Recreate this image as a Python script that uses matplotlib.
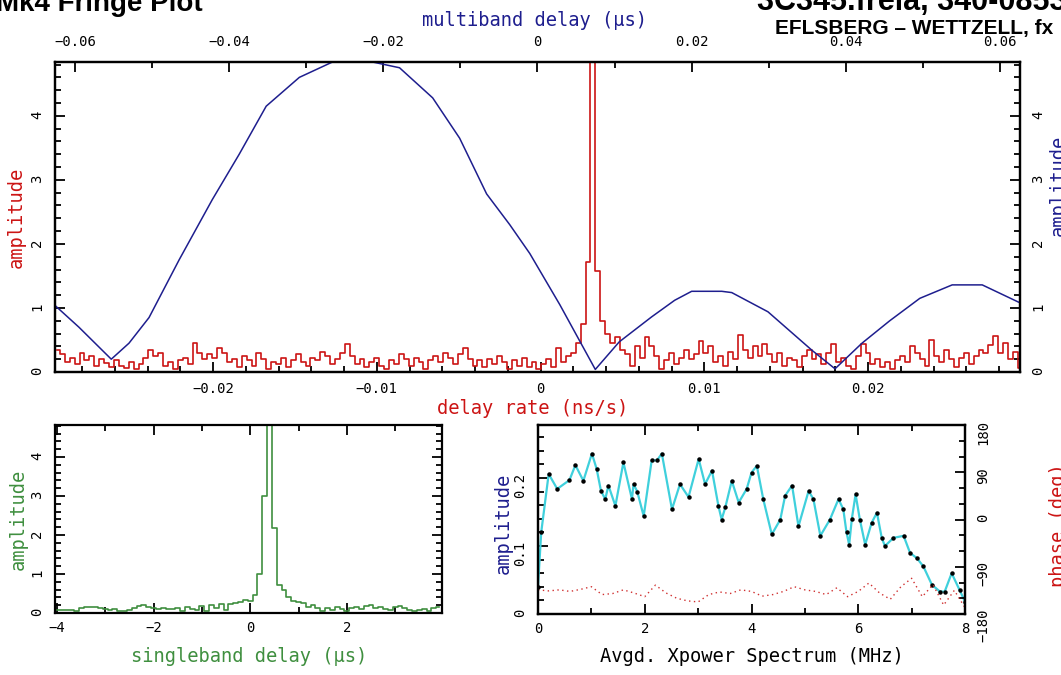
import matplotlib.pyplot as plt
import numpy as np
from matplotlib.ticker import MultipleLocator, FuncFormatter

# delay rate amplitude (red), evenly sampled from rate_start in steps of rate_step (ns/s)
rate_start = -0.0295
rate_step = 0.0003
rate_amp = [
    0.35, 0.28, 0.15, 0.22, 0.12, 0.30, 0.18, 0.25, 0.10, 0.20,
    0.14, 0.08, 0.18, 0.10, 0.06, 0.15, 0.05, 0.12, 0.22, 0.35,
    0.25, 0.30, 0.10, 0.15, 0.05, 0.18, 0.22, 0.12, 0.45, 0.30,
    0.20, 0.28, 0.22, 0.38, 0.30, 0.15, 0.20, 0.08, 0.25, 0.18,
    0.10, 0.30, 0.20, 0.05, 0.15, 0.12, 0.22, 0.08, 0.18, 0.28,
    0.15, 0.10, 0.22, 0.18, 0.32, 0.25, 0.12, 0.20, 0.30, 0.43,
    0.25, 0.12, 0.20, 0.08, 0.16, 0.22, 0.10, 0.05, 0.18, 0.12,
    0.28, 0.20, 0.10, 0.22, 0.15, 0.05, 0.18, 0.25, 0.15, 0.30,
    0.22, 0.12, 0.28, 0.38, 0.20, 0.10, 0.18, 0.08, 0.20, 0.12,
    0.25, 0.15, 0.05, 0.18, 0.10, 0.22, 0.08, 0.15, 0.05, 0.12,
    0.20, 0.08, 0.37, 0.15, 0.25, 0.30, 0.45, 0.75, 1.72, 6.00,
    1.57, 0.80, 0.60, 0.45, 0.55, 0.35, 0.28, 0.10, 0.40, 0.22,
    0.55, 0.40, 0.25, 0.05, 0.18, 0.30, 0.12, 0.22, 0.35, 0.20,
    0.28, 0.48, 0.30, 0.40, 0.15, 0.25, 0.10, 0.32, 0.20, 0.58,
    0.35, 0.22, 0.40, 0.25, 0.43, 0.28, 0.15, 0.30, 0.10, 0.22,
    0.18, 0.08, 0.25, 0.35, 0.20, 0.28, 0.12, 0.30, 0.43, 0.15,
    0.22, 0.10, 0.05, 0.25, 0.43, 0.30, 0.12, 0.20, 0.08, 0.15,
    0.05, 0.18, 0.25, 0.15, 0.40, 0.30, 0.20, 0.10, 0.50, 0.25,
    0.15, 0.35, 0.20, 0.08, 0.22, 0.30, 0.12, 0.25, 0.35, 0.30,
    0.42, 0.56, 0.30, 0.45, 0.20, 0.32, 0.06]

# multiband delay amplitude (blue)
mbd_x = [-0.0627, -0.0595, -0.0553, -0.0530, -0.0504, -0.0465, -0.0422, -0.0387,
         -0.0352, -0.0309, -0.0266, -0.0240, -0.0214, -0.0179, -0.0136, -0.0101,
         -0.0066, -0.0036, -0.0010, 0.0029, 0.0075, 0.0106, 0.0148, 0.0178,
         0.0200, 0.0239, 0.0252, 0.0299, 0.0356, 0.0386, 0.0421, 0.0457,
         0.0496, 0.0538, 0.0577, 0.0626]
mbd_amp = [1.05, 0.70, 0.20, 0.45, 0.85, 1.75, 2.69, 3.40,
           4.15, 4.60, 4.84, 4.86, 4.84, 4.75, 4.28, 3.65,
           2.78, 2.30, 1.85, 1.05, 0.04, 0.47, 0.86, 1.12,
           1.26, 1.26, 1.24, 0.94, 0.34, 0.05, 0.45, 0.80,
           1.15, 1.36, 1.36, 1.08]

# singleband delay amplitude (green), from sbd_start in steps of sbd_step (us)
sbd_start = -4.0
sbd_step = 0.1
sbd_amp = [
    0.08, 0.08, 0.08, 0.08, 0.06, 0.12, 0.15, 0.15, 0.15, 0.12,
    0.10, 0.08, 0.10, 0.06, 0.05, 0.08, 0.12, 0.18, 0.20, 0.15,
    0.12, 0.10, 0.12, 0.10, 0.10, 0.12, 0.05, 0.15, 0.10, 0.08,
    0.18, 0.05, 0.20, 0.12, 0.22, 0.08, 0.22, 0.25, 0.28, 0.33,
    0.30, 0.45, 1.00, 3.00, 5.00, 2.18, 0.72, 0.58, 0.40, 0.30,
    0.28, 0.25, 0.15, 0.20, 0.12, 0.05, 0.12, 0.08, 0.15, 0.10,
    0.05, 0.12, 0.15, 0.10, 0.18, 0.20, 0.12, 0.15, 0.10, 0.08,
    0.15, 0.18, 0.12, 0.08, 0.05, 0.08, 0.10, 0.06, 0.12, 0.15]

# averaged cross power spectrum
xp_freq = [0.0, 0.06, 0.2, 0.36, 0.59, 0.7, 0.85, 1.01, 1.1, 1.18, 1.26, 1.32, 1.45,
           1.6, 1.76, 1.79, 1.86, 1.98, 2.13, 2.23, 2.32, 2.51, 2.66, 2.82, 3.01,
           3.13, 3.26, 3.38, 3.44, 3.51, 3.63, 3.76, 3.91, 4.0, 4.1, 4.22, 4.38,
           4.54, 4.63, 4.76, 4.88, 5.07, 5.16, 5.29, 5.47, 5.63, 5.72, 5.78, 5.83,
           5.88, 5.95, 6.03, 6.13, 6.25, 6.35, 6.44, 6.5, 6.66, 6.85, 6.97, 7.1,
           7.22, 7.38, 7.53, 7.62, 7.75, 7.9, 8.0]
xp_amp = [0.040, 0.120, 0.206, 0.184, 0.197, 0.219, 0.196, 0.236, 0.213, 0.181,
          0.169, 0.189, 0.159, 0.223, 0.169, 0.191, 0.180, 0.144, 0.226, 0.226,
          0.236, 0.154, 0.191, 0.172, 0.228, 0.191, 0.211, 0.159, 0.139, 0.157,
          0.196, 0.164, 0.184, 0.208, 0.218, 0.169, 0.117, 0.139, 0.174, 0.189,
          0.129, 0.181, 0.169, 0.115, 0.139, 0.169, 0.154, 0.120, 0.102, 0.140,
          0.176, 0.139, 0.102, 0.134, 0.149, 0.112, 0.100, 0.112, 0.115, 0.090,
          0.082, 0.070, 0.043, 0.033, 0.033, 0.060, 0.035, 0.018]
phase_freq = [0.0, 0.2, 0.4, 0.6, 0.8, 1.0, 1.2, 1.4, 1.6, 1.8,
              2.0, 2.2, 2.4, 2.6, 2.8, 3.0, 3.2, 3.4, 3.6, 3.8,
              4.0, 4.2, 4.4, 4.6, 4.8, 5.0, 5.2, 5.4, 5.6, 5.8,
              6.0, 6.2, 6.4, 6.6, 6.8, 7.0, 7.2, 7.4, 7.6, 7.8, 8.0]
phase_deg = [-134, -136, -134, -137, -133, -128, -143, -141, -134, -140,
             -147, -125, -140, -150, -155, -157, -143, -138, -141, -134,
             -137, -146, -143, -137, -128, -134, -137, -143, -130, -147,
             -137, -121, -140, -152, -128, -112, -147, -124, -163, -135, -168]

RED = '#cc1414'
BLUE = '#1e1e8e'
GREEN = '#3f8f3f'
CYAN = '#3fd0dc'
W, H = 1061, 675

plt.rcParams['font.family'] = 'DejaVu Sans Mono'
plt.rcParams['axes.unicode_minus'] = True


def fmt(v, pos):
    s = '%g' % round(v, 6)
    return s.replace('-', '\u2212')


def style_axis(ax):
    for sp in ax.spines.values():
        sp.set_linewidth(1.6)
    ax.tick_params(which='both', direction='in', width=1.3, labelsize=10)
    ax.tick_params(which='major', length=7)
    ax.tick_params(which='minor', length=4)
    ax.tick_params(axis='y', labelrotation=90)
    ax.xaxis.set_major_formatter(FuncFormatter(fmt))
    ax.yaxis.set_major_formatter(FuncFormatter(fmt))


def box(left, top, right, bottom):
    return [left / W, 1 - bottom / H, (right - left) / W, (bottom - top) / H]


def label(x, y, text, color, rot=0):
    fig.text(x / W, 1 - y / H, text, color=color, fontsize=13.5, rotation=rot,
             ha='center', va='center')


fig = plt.figure(figsize=(W / 100, H / 100), dpi=100)

# ---- top panel: delay rate + multiband delay
ax_rate = fig.add_axes(box(55, 62, 1020, 372))
rate_x = rate_start + rate_step * np.arange(len(rate_amp))
ax_rate.plot(rate_x, rate_amp, color=RED, lw=1.2, drawstyle='steps-mid')
ax_rate.set_xlim(-0.02965, 0.02928)
ax_rate.set_ylim(0, 4.84)
style_axis(ax_rate)
ax_rate.xaxis.set_major_locator(MultipleLocator(0.01))
ax_rate.xaxis.set_minor_locator(MultipleLocator(0.002))
ax_rate.yaxis.set_major_locator(MultipleLocator(1))
ax_rate.yaxis.set_minor_locator(MultipleLocator(0.2))
ax_rate.tick_params(which='both', top=False, right=True, labelright=True)
ax_rate.tick_params(axis='x', pad=7)
ax_rate.tick_params(axis='y', pad=8)

ax_mbd = ax_rate.twiny()
ax_mbd.plot(mbd_x, mbd_amp, color=BLUE, lw=1.1)
ax_mbd.set_xlim(-0.0626, 0.0626)
style_axis(ax_mbd)
ax_mbd.xaxis.set_major_locator(MultipleLocator(0.02))
ax_mbd.xaxis.set_minor_locator(MultipleLocator(0.01))
ax_mbd.tick_params(axis='x', which='both', top=True, bottom=False, labeltop=True, pad=9)

# ---- bottom left: singleband delay
ax_sbd = fig.add_axes(box(55, 425, 442, 613))
sbd_x = sbd_start + sbd_step * np.arange(len(sbd_amp))
ax_sbd.plot(sbd_x, sbd_amp, color=GREEN, lw=1.2, drawstyle='steps-mid')
ax_sbd.set_xlim(-4.04, 3.97)
ax_sbd.set_ylim(0, 4.82)
style_axis(ax_sbd)
ax_sbd.xaxis.set_major_locator(MultipleLocator(2))
ax_sbd.xaxis.set_minor_locator(MultipleLocator(1))
ax_sbd.yaxis.set_major_locator(MultipleLocator(1))
ax_sbd.yaxis.set_minor_locator(MultipleLocator(0.2))
ax_sbd.tick_params(which='both', top=True, right=True)
ax_sbd.tick_params(axis='x', pad=6)
ax_sbd.tick_params(axis='y', pad=8)

# ---- bottom right: cross power spectrum
ax_xp = fig.add_axes(box(538, 425, 965, 614))
ax_xp.plot(xp_freq, xp_amp, color=CYAN, lw=1.6, marker='o', ms=2.2,
           mfc='black', mec='black')
ax_xp.set_xlim(0, 8)
ax_xp.set_ylim(0, 0.278)
style_axis(ax_xp)
ax_xp.xaxis.set_major_locator(MultipleLocator(2))
ax_xp.xaxis.set_minor_locator(MultipleLocator(1))
ax_xp.yaxis.set_major_locator(MultipleLocator(0.1))
ax_xp.yaxis.set_minor_locator(MultipleLocator(0.02))
ax_xp.tick_params(which='both', top=True)
ax_xp.tick_params(axis='x', pad=6)
ax_xp.tick_params(axis='y', pad=8)

ax_ph = ax_xp.twinx()
ax_ph.plot(phase_freq, phase_deg, color='#d03030', lw=1.0, ls=(0, (1, 2.5)))
ax_ph.set_ylim(-180, 180)
style_axis(ax_ph)
ax_ph.yaxis.set_major_locator(MultipleLocator(90))
ax_ph.yaxis.set_minor_locator(MultipleLocator(30))
ax_ph.tick_params(axis='y', pad=8)

# ---- axis labels
label(534, 20, 'multiband delay (\u03bcs)', BLUE)
label(533, 408, 'delay rate (ns/s)', RED)
label(16, 217, 'amplitude', RED, 90)
label(1058, 185, 'amplitude', BLUE, 90)
label(18, 519, 'amplitude', GREEN, 90)
label(249, 656, 'singleband delay (\u03bcs)', GREEN)
label(503, 523, 'amplitude', BLUE, 90)
label(752, 656, 'Avgd. Xpower Spectrum (MHz)', 'black')
label(1058, 525, 'phase (deg)', RED, 90)

# ---- titles (cropped at the image edge like the original)
fig.text(-4 / W, 1 - 11 / H, 'Mk4 Fringe Plot', fontsize=20, weight='bold',
         family='Liberation Sans', ha='left', va='baseline')
fig.text(757 / W, 1 - 10 / H, '3C345.freia, 340-0853', fontsize=22, weight='bold',
         family='Liberation Sans', ha='left', va='baseline')
fig.text(775 / W, 1 - 34 / H, 'EFLSBERG \u2013 WETTZELL, fx', fontsize=15, weight='bold',
         family='Liberation Sans', ha='left', va='baseline')

fig.savefig('out.png', dpi=100)
plt.close(fig)
